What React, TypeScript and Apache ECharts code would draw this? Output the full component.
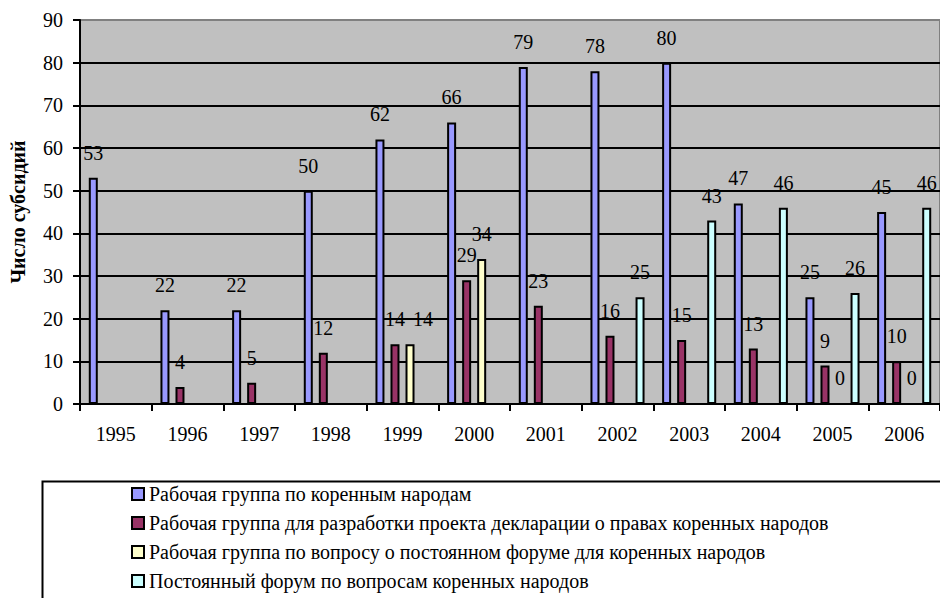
import React, { useEffect, useRef } from "react";
import * as echarts from "echarts";

const years = ["1995", "1996", "1997", "1998", "1999", "2000", "2001", "2002", "2003", "2004", "2005", "2006"];
const seriesNames = [
  "Рабочая группа по коренным народам",
  "Рабочая группа для разработки проекта декларации о правах коренных народов",
  "Рабочая группа по вопросу о постоянном форуме для коренных народов",
  "Постоянный форум по вопросам коренных народов",
];
const workingGroup = [53, 22, 22, 50, 62, 66, 79, 78, 80, 47, 25, 45];
const declarationGroup = [null, 4, 5, 12, 14, 29, 23, 16, 15, 13, 9, 10];
const forumQuestionGroup = [null, null, null, null, 14, 34, null, null, null, null, 0, 0];
const permanentForum = [null, null, null, null, null, null, null, 25, 43, 46, 26, 46];
const colors = ["#9999FF", "#993366", "#FFFFCC", "#CCFFFF"];
const yTicks = { min: 0, max: 90, interval: 10 };

const FONT = "Liberation Serif";

echarts.registerTheme("serifTheme", { textStyle: { fontFamily: FONT } });

export default function App() {
  const ref = useRef<HTMLDivElement>(null);
  useEffect(() => {
    if (!ref.current) return;
    const chart = echarts.init(ref.current, "serifTheme", { renderer: "svg" });
    const data = [workingGroup, declarationGroup, forumQuestionGroup, permanentForum];
    const seriesData = (i: number) =>
      data[i].map((v, j) => {
        // the yellow "14" of 1999 is nudged right in the reference so it clears the maroon "14"
        if (i === 2 && j === 4) return { value: v, label: { offset: [13, 0] } };
        return v;
      });
    chart.setOption({
      animation: false,
      textStyle: { fontFamily: FONT, color: "#000" },
      grid: {
        left: 80,
        right: -1,
        top: 20,
        bottom: 194,
        show: true,
        backgroundColor: "#C0C0C0",
        borderColor: "#808080",
        borderWidth: 2,
      },
      graphic: [
        {
          type: "rect",
          left: 40,
          top: 479,
          shape: { width: 960, height: 200 },
          style: { fill: "none", stroke: "#000", lineWidth: 2 },
          silent: true,
        },
      ],
      legend: {
        orient: "vertical",
        left: 131,
        top: 484,
        padding: 0,
        itemGap: 9,
        itemWidth: 12,
        itemHeight: 12,
        icon: "rect",
        itemStyle: { borderColor: "#000", borderWidth: 2 },
        textStyle: { fontFamily: FONT, fontSize: 20, color: "#000" },
        data: seriesNames,
      },
      xAxis: {
        type: "category",
        data: years,
        boundaryGap: true,
        axisLine: { lineStyle: { color: "#000", width: 2 } },
        axisTick: { show: true, length: 7, lineStyle: { color: "#000", width: 2 } },
        axisLabel: { fontFamily: FONT, fontSize: 20, color: "#000", margin: 20 },
        splitLine: { show: false },
      },
      yAxis: {
        type: "value",
        min: yTicks.min,
        max: yTicks.max,
        interval: yTicks.interval,
        name: "Число субсидий",
        nameLocation: "middle",
        nameGap: 52,
        nameTextStyle: { fontFamily: FONT, fontSize: 20, fontWeight: "bold", color: "#000" },
        axisLine: { show: true, lineStyle: { color: "#000", width: 2 } },
        axisTick: { show: true, length: 7, lineStyle: { color: "#000", width: 2 } },
        axisLabel: { fontFamily: FONT, fontSize: 20, color: "#000", margin: 17 },
        splitLine: { show: true, showMaxLine: false, lineStyle: { color: "#000", width: 2 } },
      },
      series: seriesNames.map((name, i) => ({
        name,
        type: "bar",
        data: seriesData(i),
        barWidth: 9,
        barGap: "67%",
        itemStyle: { color: colors[i], borderColor: "#000", borderWidth: 2 },
        label: {
          show: true,
          position: "top",
          distance: 15,
          fontFamily: FONT,
          fontSize: 20,
          color: "#000",
        },
      })),
    });
    return () => chart.dispose();
  }, []);
  return (
    <>
      <style>{`.serif-chart svg text { font-family: "Liberation Serif", "Times New Roman", serif !important; }`}</style>
      <div
        ref={ref}
        className="serif-chart"
        style={{ position: "fixed", left: 0, top: 0, width: 940, height: 598, background: "#fff" }}
      />
    </>
  );
}
